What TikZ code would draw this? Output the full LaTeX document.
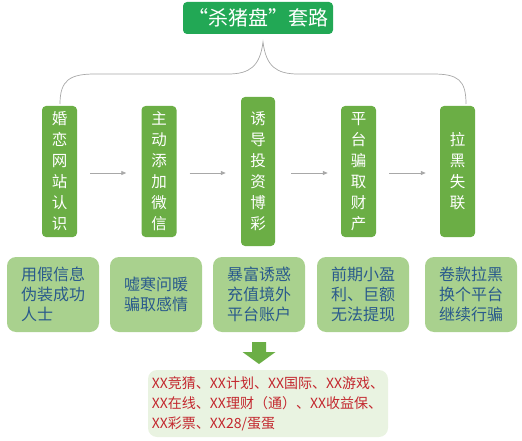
\documentclass[tikz,border=0pt]{standalone}
\usepackage{fontspec}
\setmainfont{Noto Sans CJK SC}
\usetikzlibrary{arrows.meta}
\definecolor{titlegreen}{HTML}{22A855}
\definecolor{stepgreen}{HTML}{6BAE45}
\definecolor{lightgreen}{HTML}{A9D18E}
\definecolor{palegreen}{HTML}{E9F3E1}
\definecolor{bluetext}{HTML}{2A5A8C}
\definecolor{redtext}{HTML}{C3272E}
\definecolor{lgray}{HTML}{A8A8A8}
\tikzset{
  stepbox/.style={fill=stepgreen, rounded corners=4pt, minimum width=35pt, text=white,
    font=\fontsize{15.5}{21}\selectfont, align=center, inner sep=0pt},
  descbox/.style={fill=lightgreen, rounded corners=9pt, minimum width=92pt, minimum height=75pt,
    text=bluetext, font=\fontsize{16}{20}\selectfont, align=left, inner sep=0pt},
  flow/.style={lgray, line width=0.8pt, -{Triangle[length=5pt,width=4pt]}},
}
\begin{document}
\begin{tikzpicture}[x=1pt,y=-1pt]
\useasboundingbox (0,0) rectangle (522,441);
% title
\node[fill=titlegreen, rounded corners=4pt, minimum width=150pt, minimum height=32pt, text=white,
  font=\fontsize{20}{24}\selectfont, inner sep=0pt] (title) at (258,18) {“杀猪盘”套路};
% brace
\coordinate (bl) at (60,104);
\coordinate (br) at (466,104);
\coordinate (bc) at (263,42);
\draw[lgray, line width=0.7pt] (bl) .. controls (60,80) and (70,74) .. (95,74)
  -- (228,74) .. controls (250,74) and (260,66) .. (bc)
  .. controls (266,66) and (276,74) .. (298,74)
  -- (433,74) .. controls (458,74) and (466,80) .. (br);
% step boxes
\node[stepbox, minimum height=131pt] (s1) at (59.5,171.5) {婚\\恋\\网\\站\\认\\识};
\node[stepbox, minimum height=131pt] (s2) at (159,171.5) {主\\动\\添\\加\\微\\信};
\node[stepbox, minimum height=149pt, minimum width=34pt] (s3) at (258,171.5) {诱\\导\\投\\资\\博\\彩};
\node[stepbox, minimum height=131pt] (s4) at (358.5,171.5) {平\\台\\骗\\取\\财\\产};
\node[stepbox, minimum height=131pt] (s5) at (457.5,171.5) {拉\\黑\\失\\联};
% arrows
\draw[flow] ([xshift=13pt,yshift=-1.5pt]s1.east) -- ([xshift=-15pt,yshift=-1.5pt]s2.west);
\draw[flow] ([xshift=13pt,yshift=-1.5pt]s2.east) -- ([xshift=-15pt,yshift=-1.5pt]s3.west);
\draw[flow] ([xshift=16pt,yshift=-1.5pt]s3.east) -- ([xshift=-13pt,yshift=-1.5pt]s4.west);
\draw[flow] ([xshift=13pt,yshift=-1.5pt]s4.east) -- ([xshift=-14pt,yshift=-1.5pt]s5.west);
% description boxes
\node[descbox] (d1) at (53,294.5) {用假信息\\伪装成功\\人士};
\node[descbox] (d2) at (156,294.5) {嘘寒问暖\\骗取感情};
\node[descbox] (d3) at (259,294.5) {暴富诱惑\\充值境外\\平台账户};
\node[descbox] (d4) at (363,294.5) {前期小盈\\利、巨额\\无法提现};
\node[descbox] (d5) at (471,294.5) {卷款拉黑\\换个平台\\继续行骗};
% down block arrow
\fill[stepgreen] (252,342) -- (266,342) -- (266,352) -- (275.5,352) -- (259,364)
  -- (242.5,352) -- (252,352) -- cycle;
% platforms box
\node[fill=palegreen, rounded corners=9pt, minimum width=240pt, minimum height=67pt,
  text=redtext, font=\fontsize{14}{20}\selectfont, align=left, inner sep=0pt] (plat) at (268,403.5)
  {XX竞猜、XX计划、XX国际、XX游戏、\\XX在线、XX理财（通）、XX收益保、\\XX彩票、XX28/蛋蛋};
\end{tikzpicture}
\end{document}
